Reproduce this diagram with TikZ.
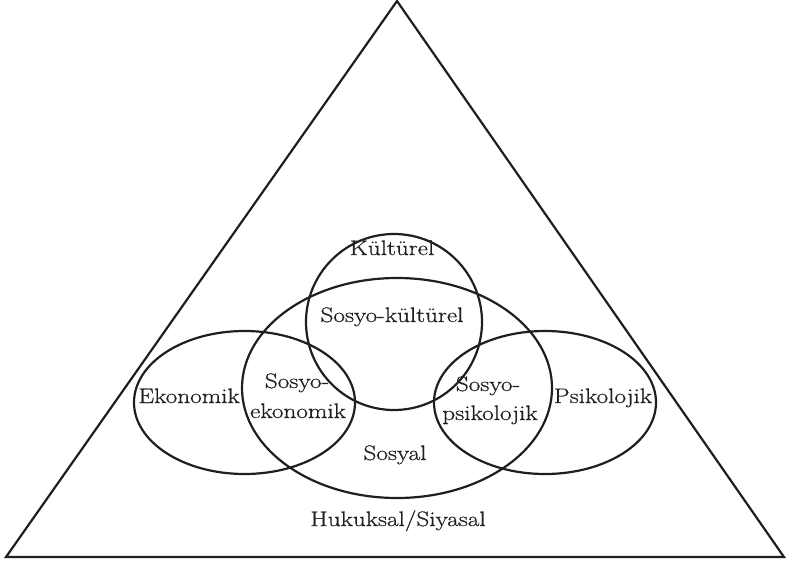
\documentclass[tikz,border=0pt]{standalone}
\usepackage{fontspec}
\setmainfont{Latin Modern Roman}[FakeStretch=1.2,FakeBold=0.6]
\begin{document}
\begin{tikzpicture}[x=1pt,y=-1pt,
  shape line/.style={draw=black!88, line width=2.2pt},
  lbl/.style={inner sep=0pt, anchor=base, text=black!88, font=\fontsize{21}{24}\selectfont}]
\useasboundingbox (0,0) rectangle (786,565);
% triangle
\draw[shape line, line join=miter] (397,1) -- (784,557) -- (6,557) -- cycle;
% ellipses and circle
\draw[shape line] (394,322) circle[radius=88];
\draw[shape line] (397,388) ellipse[x radius=155, y radius=110];
\draw[shape line] (244.5,402.5) ellipse[x radius=110.5, y radius=71.5];
\draw[shape line] (545,402.5) ellipse[x radius=111, y radius=71.5];
% labels
\node[lbl] (kul) at (392,255) {Kültürel};
\node[lbl] (skul) at (392,322) {Sosyo-kültürel};
\node[lbl] (eko) at (189,403) {Ekonomik};
\node[lbl] (seko1) at (297,388) {Sosyo-};
\node[lbl] (seko2) at (298,418) {ekonomik};
\node[lbl] (sos) at (395,460) {Sosyal};
\node[lbl] (spsi1) at (488,391) {Sosyo-};
\node[lbl] (spsi2) at (490,420) {psikolojik};
\node[lbl] (psi) at (603,403) {Psikolojik};
\node[lbl] (huk) at (398,526) {Hukuksal/Siyasal};
\end{tikzpicture}
\end{document}
